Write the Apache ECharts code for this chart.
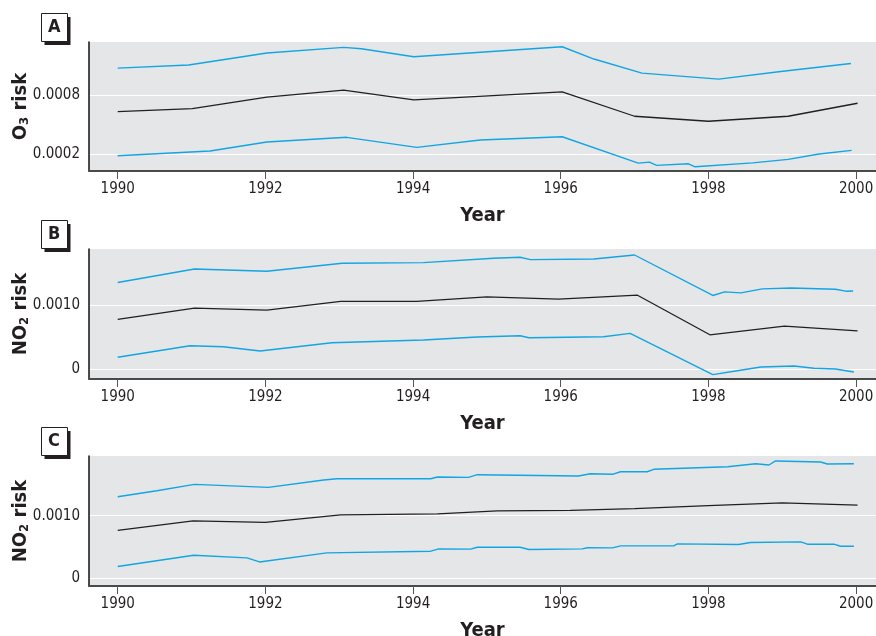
<!DOCTYPE html>
<html>
<head>
<meta charset="utf-8">
<script src="https://cdn.jsdelivr.net/npm/echarts@6/dist/echarts.min.js"></script>
<style>
  html, body { margin: 0; padding: 0; background: #ffffff; }
  #chart { width: 876px; height: 636px; }
</style>
</head>
<body>
<div id="chart"></div>
<script>
// Year ticks shared by all three panels
const yearTicks = [1990, 1992, 1994, 1996, 1998, 2000];

// Panel A: O3 risk estimate with lower/upper bounds ([year, risk])
const o3Upper = [[1990, 0.001075], [1990.96, 0.001106], [1992.02, 0.001228], [1993.06, 0.001285], [1993.3, 0.001272],
  [1994.01, 0.00119], [1996.02, 0.001292], [1996.45, 0.001167], [1997.1, 0.001024], [1998.14, 0.000963],
  [1998.98, 0.00104], [1999.93, 0.001122]];
const o3Mid = [[1990, 0.000633], [1991.01, 0.000663], [1992.02, 0.00078], [1993.06, 0.000851], [1994.01, 0.000752],
  [1996.02, 0.000834], [1997.0, 0.000586], [1998.0, 0.000535], [1999.08, 0.000586], [2000.02, 0.000718]];
const o3Lower = [[1990, 0.000185], [1991.25, 0.000233], [1992.02, 0.000324], [1993.1, 0.000372], [1994.05, 0.00027],
  [1994.91, 0.000345], [1996.02, 0.000378], [1997.05, 0.00011], [1997.2, 0.00012], [1997.3, 0.000087],
  [1997.73, 0.000103], [1997.82, 0.000073], [1998.6, 0.000113], [1999.08, 0.000148], [1999.5, 0.000202],
  [1999.94, 0.00024]];
const o3Ticks = [0.0002, 0.0008];

// Panel B: NO2 risk
const no2bUpper = [[1990, 0.001355], [1991.04, 0.001567], [1992.02, 0.001531], [1993.04, 0.001656], [1994.14, 0.001667],
  [1995.09, 0.001734], [1995.45, 0.00175], [1995.59, 0.001714], [1996.45, 0.001723], [1997.0, 0.001786],
  [1998.06, 0.001152], [1998.22, 0.001208], [1998.44, 0.001192], [1998.73, 0.001255], [1999.12, 0.00127],
  [1999.72, 0.00125], [1999.86, 0.001219], [1999.96, 0.001223]];
const no2bMid = [[1990, 0.000777], [1991.04, 0.000953], [1992.02, 0.000922], [1993.02, 0.001058], [1994.05, 0.001058],
  [1995.0, 0.00113], [1995.97, 0.001094], [1997.04, 0.001156], [1998.02, 0.000536], [1999.03, 0.000672],
  [2000.02, 0.000598]];
const no2bLower = [[1990, 0.000183], [1990.98, 0.000364], [1991.43, 0.000348], [1991.93, 0.000281], [1992.9, 0.000411],
  [1994.14, 0.000453], [1994.87, 0.0005], [1995.45, 0.00052], [1995.57, 0.000489], [1996.58, 0.000505],
  [1996.94, 0.000558], [1998.06, -0.000089], [1998.39, -0.000027], [1998.71, 0.000031], [1999.16, 0.000047],
  [1999.43, 0.000011], [1999.72, 0.0], [1999.97, -0.000047]];
const no2bTicks = [0, 0.001];

// Panel C: NO2 risk
const no2cUpper = [[1990, 0.001299], [1990.53, 0.001395], [1991.04, 0.001497], [1992.04, 0.001449], [1992.79, 0.001565],
  [1992.97, 0.001586], [1994.24, 0.001586], [1994.33, 0.001613], [1994.75, 0.001608], [1994.87, 0.00165],
  [1996.24, 0.001629], [1996.4, 0.001666], [1996.7, 0.001656], [1996.81, 0.001697], [1997.17, 0.001697],
  [1997.26, 0.001736], [1998.26, 0.001777], [1998.64, 0.001825], [1998.82, 0.001804], [1998.91, 0.001868],
  [1999.52, 0.001852], [1999.61, 0.00182], [1999.97, 0.001825]];
const no2cMid = [[1990, 0.000764], [1991.02, 0.000917], [1992.0, 0.000892], [1993.02, 0.001013], [1994.33, 0.001029],
  [1995.14, 0.001076], [1996.13, 0.001083], [1997.0, 0.00111], [1998.0, 0.00116], [1999.0, 0.001204],
  [2000.02, 0.001167]];
const no2cLower = [[1990, 0.000191], [1991.03, 0.000371], [1991.75, 0.000328], [1991.92, 0.000264], [1992.83, 0.000408],
  [1994.24, 0.000435], [1994.35, 0.000471], [1994.78, 0.000467], [1994.87, 0.000498], [1995.45, 0.000498],
  [1995.57, 0.000462], [1996.29, 0.000471], [1996.36, 0.00049], [1996.7, 0.000487], [1996.81, 0.000519],
  [1997.53, 0.000519], [1997.58, 0.000551], [1998.41, 0.000541], [1998.57, 0.000573], [1999.25, 0.000583],
  [1999.34, 0.000546], [1999.7, 0.000546], [1999.79, 0.000514], [1999.97, 0.000514]];
const no2cTicks = [0, 0.001];

const panelLetters = ['A', 'B', 'C'];

const FONT = "'Liberation Sans Narrow', 'Arial Narrow', 'DejaVu Sans Condensed', sans-serif";
const BLUE = '#12a5e3';
const DARK = '#231f20';

const panels = [
  { top: 42, height: 129, min: 0.00003, max: 0.00134, ticks: o3Ticks, sub: '3', lines: [o3Upper, o3Mid, o3Lower] },
  { top: 249, height: 130, min: -0.000157, max: 0.00188, ticks: no2bTicks, sub: '2', lines: [no2bUpper, no2bMid, no2bLower] },
  { top: 456, height: 130, min: -0.000118, max: 0.001947, ticks: no2cTicks, sub: '2', lines: [no2cUpper, no2cMid, no2cLower] }
];
const gasNames = ['O', 'NO', 'NO'];

function fmtRisk(v) {
  if (Math.abs(v) < 1e-12) return '0';
  return v.toFixed(4);
}

const grids = [], xAxes = [], yAxes = [], series = [], graphics = [];
panels.forEach((p, i) => {
  grids.push({ left: 89, right: 0, top: p.top, height: p.height, show: true,
    backgroundColor: '#e5e6e8', borderWidth: 0, containLabel: false, outerBoundsMode: 'none' });
  xAxes.push({
    type: 'value', gridIndex: i, min: 1989.611, max: 2000.27,
    name: 'Year', nameLocation: 'middle', nameGap: 35, nameMoveOverlap: false,
    nameTextStyle: { fontFamily: FONT, fontWeight: 'bold', fontSize: 20, color: DARK, verticalAlign: 'top' },
    axisLine: { show: true, onZero: false, lineStyle: { color: '#4a4a4a', width: 2 } },
    axisTick: { show: true, length: 8, inside: false, customValues: yearTicks, lineStyle: { color: '#555', width: 1 } },
    axisLabel: { customValues: yearTicks, fontFamily: FONT, fontSize: 15, color: DARK, margin: 11,
      formatter: v => String(Math.round(v)) },
    splitLine: { show: false }
  });
  yAxes.push({
    type: 'value', gridIndex: i, min: p.min, max: p.max,
    name: '{t|' + gasNames[i] + '}{s|' + p.sub + '}{t| risk}',
    nameLocation: 'middle', nameGap: 58, nameRotate: 90, nameMoveOverlap: false,
    nameTextStyle: {
      rich: {
        t: { fontFamily: FONT, fontWeight: 'bold', fontSize: 20, color: DARK, lineHeight: 20 },
        s: { fontFamily: FONT, fontWeight: 'bold', fontSize: 13, color: DARK, lineHeight: 13,
             padding: [11, 0, 0, 0], verticalAlign: 'bottom' }
      }
    },
    axisLine: { show: true, onZero: false, lineStyle: { color: '#111', width: 1.5 } },
    axisTick: { show: false, customValues: p.ticks },
    axisLabel: { customValues: p.ticks, fontFamily: FONT, fontSize: 15, color: DARK, margin: 9, formatter: fmtRisk },
    splitLine: { show: true, lineStyle: { color: '#ffffff', width: 1 } }
  });
  const colors = [BLUE, DARK, BLUE];
  p.lines.forEach((d, k) => {
    series.push({
      type: 'line', xAxisIndex: i, yAxisIndex: i, data: d, showSymbol: false, symbol: 'none',
      lineStyle: { color: colors[k], width: k === 1 ? 1.3 : 1.4 }, z: k === 1 ? 3 : 2, silent: true
    });
  });
  // Panel letter box with drop shadow
  const boxTop = p.top - 29;
  graphics.push({ type: 'rect', left: 44.5, top: boxTop + 4, shape: { width: 26, height: 28 },
    style: { fill: '#231f20' } });
  graphics.push({ type: 'rect', left: 41, top: boxTop, shape: { width: 26, height: 28 },
    style: { fill: '#ffffff', stroke: '#231f20', lineWidth: 1 } });
  graphics.push({ type: 'text', left: 54 - 6, top: boxTop + 5,
    style: { text: panelLetters[i], font: "bold 18px " + FONT, fill: DARK } });
});

const chart = echarts.init(document.getElementById('chart'), null, { renderer: 'canvas' });
chart.setOption({
  animation: false,
  backgroundColor: '#ffffff',
  grid: grids,
  xAxis: xAxes,
  yAxis: yAxes,
  series: series,
  graphic: graphics
});
</script>
</body>
</html>
